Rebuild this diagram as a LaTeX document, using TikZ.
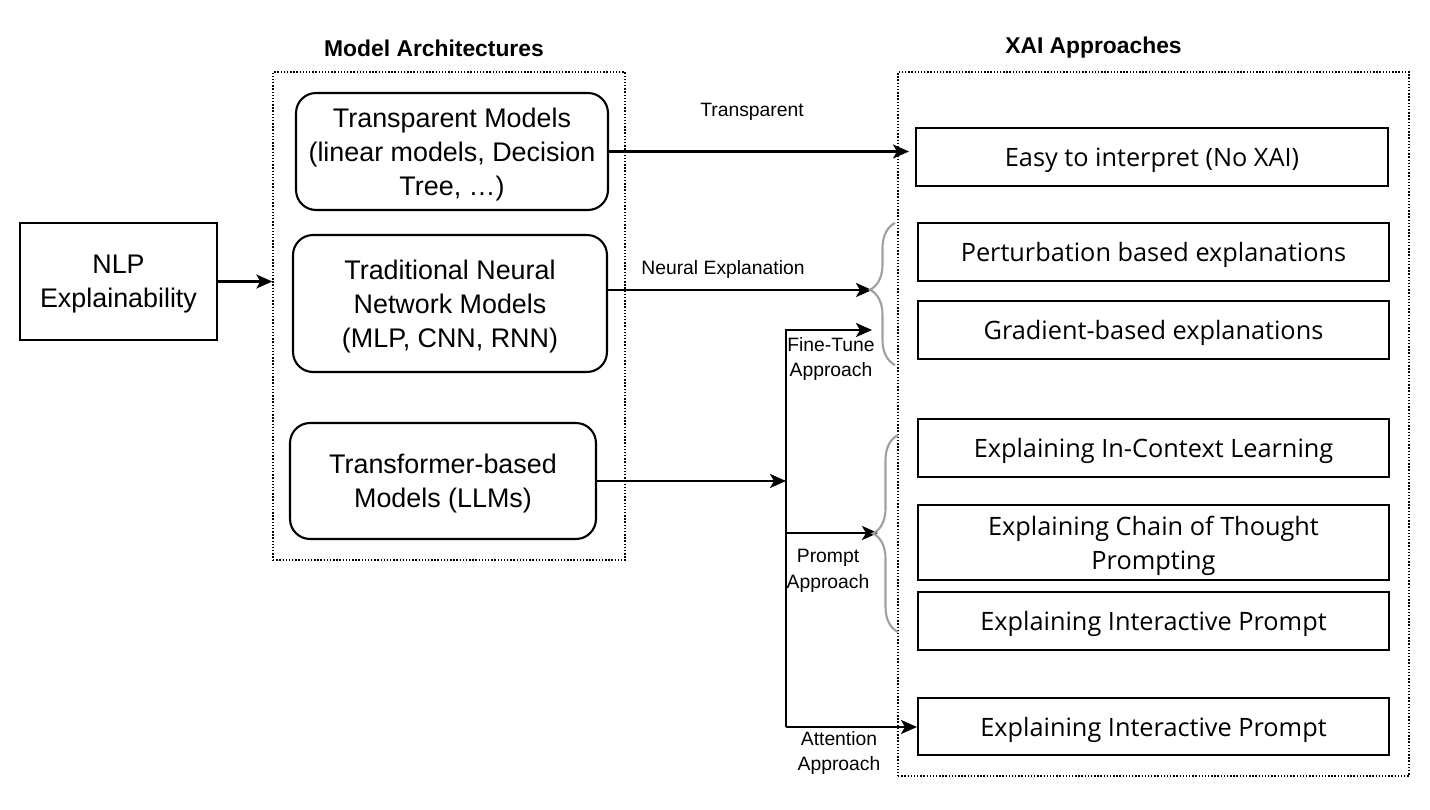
\documentclass[tikz,border=0pt]{standalone}
\usepackage{fontspec}
\setmainfont{Liberation Sans}
\newfontfamily\xaifont{Open Sans}
\usetikzlibrary{arrows.meta,decorations.pathreplacing}
\definecolor{bracegray}{RGB}{160,160,160}
\begin{document}
\begin{tikzpicture}[x=0.02cm,y=-0.02cm,
    every node/.style={font=\fontsize{15.3}{19.3}\selectfont,align=center},
    plainbox/.style={draw,line width=1.2pt,inner sep=0pt,text depth=-0.05cm},
    archbox/.style={plainbox,rounded corners=0.4cm},
    xaibox/.style={plainbox,minimum width=9.42cm,minimum height=1.16cm,
        font=\xaifont\fontsize{14.4}{19.3}\selectfont},
    group/.style={draw,densely dotted,line width=0.8pt,inner sep=0pt},
    heading/.style={font=\bfseries\fontsize{13}{16}\selectfont},
    lbl/.style={font=\fontsize{11}{14.7}\selectfont},
    arr/.style={-{Stealth[length=0.32cm,width=0.28cm,inset=0.08cm]},line width=1.3pt},
    curly/.style={bracegray,line width=1.2pt,decorate,decoration={brace,amplitude=0.5cm}}]
    \useasboundingbox (0,0) rectangle (1430,810);
    \node[heading] (archtitle) at (434,48) {Model Architectures};
    \node[heading] (xaititle) at (1093.5,48) {XAI Approaches};
    \node[group,minimum width=7.04cm,minimum height=9.76cm] (arch) at (449,316) {};
    \node[group,minimum width=10.22cm,minimum height=14.08cm] (xai) at (1153.5,424) {};
    \node[plainbox,minimum width=3.94cm,minimum height=2.34cm] (nlp) at (118.5,281.5)
        {NLP\\Explainability};
    \node[archbox,minimum width=6.24cm,minimum height=2.34cm] (transp) at (452,151.5)
        {Transparent Models\\(linear models, Decision\\Tree, …)};
    \node[archbox,minimum width=6.28cm,minimum height=2.74cm] (trad) at (450,303.5)
        {Traditional Neural\\Network Models\\(MLP, CNN, RNN)};
    \node[archbox,minimum width=6.12cm,minimum height=2.32cm] (transf) at (443,481)
        {Transformer-based\\Models (LLMs)};
    \node[xaibox,minimum width=9.44cm] (easy) at (1152,157) {Easy to interpret (No XAI)};
    \node[xaibox] (pert) at (1153.5,252) {Perturbation based explanations};
    \node[xaibox] (grad) at (1153.5,330) {Gradient-based explanations};
    \node[xaibox] (icl) at (1153.5,448) {Explaining In-Context Learning};
    \node[xaibox,minimum height=1.5cm] (cot) at (1153.5,542.5) {Explaining Chain of Thought\\Prompting};
    \node[xaibox] (inter) at (1153.5,621) {Explaining Interactive Prompt};
    \node[xaibox,minimum height=1.14cm] (attn) at (1153.5,726.5) {Explaining Interactive Prompt};
    \coordinate (ft) at (786,330);
    \coordinate (pa) at (786,533);
    \coordinate (at) at (786,727);
    \coordinate (b1) at (872,290);
    \coordinate (b2) at (878,533);
    \draw[arr] (nlp.east) -- (nlp.east -| arch.west);
    \draw[arr] (transp.east) -- ([xshift=-0.12cm]transp.east -| easy.west);
    \draw[arr] (trad.east |- b1) -- (b1);
    \draw[arr] (transf.east) -- (transf.east -| ft);
    \draw[arr] (at) -- (ft) -- (ft -| b1);
    \draw[arr] (pa) -- (b2);
    \draw[arr] (at) -- (at -| attn.west);
    \node[lbl] (tlbl) at (752,112) {Transparent};
    \node[lbl] (nlbl) at (723,270) {Neural Explanation};
    \node[lbl] (ftlbl) at (831,359) {Fine-Tune\\Approach};
    \node[lbl] (palbl) at (828,571) {Prompt\\Approach};
    \node[lbl] (atlbl) at (839,753) {Attention\\Approach};
    \draw[curly,decoration={aspect=0.53}] (895,365) -- (895,223);
    \draw[curly,decoration={aspect=0.5}] (898,632) -- (898,435);
\end{tikzpicture}
\end{document}
